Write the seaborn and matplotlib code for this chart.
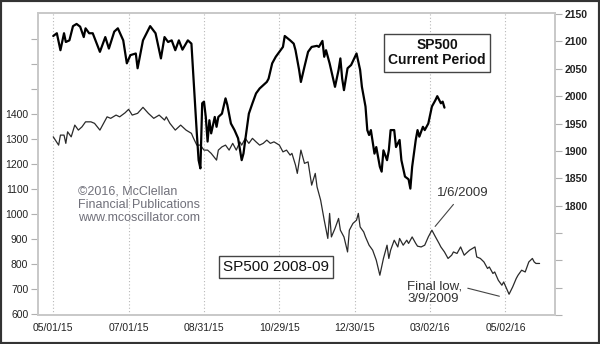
import matplotlib
matplotlib.use("Agg")
import matplotlib.pyplot as plt
from matplotlib.patches import Rectangle
import seaborn as sns
import pandas as pd

# ---- data (x = trading-day index from 05/01/15) ----
cur_idx = [0, 2, 4, 6, 7, 9, 11, 13, 15, 17, 18, 20, 22, 26, 29, 31, 34, 36, 39, 41,
           43, 46, 47, 50, 54, 57, 60, 62, 64, 66, 68, 70, 72, 75, 77, 78, 80, 81, 82, 83,
           84, 85, 86, 87, 88, 90, 91, 92, 94, 96, 97, 99, 101, 103, 105, 106, 107, 109, 111, 113,
           115, 117, 119, 120, 122, 124, 126, 128, 129, 132, 134, 135, 137, 138, 140, 142, 144, 147, 148, 150,
           151, 152, 154, 157, 159, 160, 161, 162, 164, 166, 169, 171, 172, 174, 175, 176, 177, 179, 180, 182,
           183, 184, 186, 187, 188, 190, 191, 193, 194, 196, 198, 199, 200, 202, 203, 204, 206, 207, 209, 211,
           213, 214, 216, 217, 218]
cur_val = [2110, 2115, 2084, 2115, 2099, 2102, 2128, 2132, 2127, 2108, 2124, 2115, 2115, 2081, 2108, 2087, 2118, 2124, 2102, 2060,
           2075, 2078, 2051, 2102, 2128, 2115, 2069, 2108, 2099, 2102, 2084, 2102, 2085, 2102, 2096, 2041, 1932, 1883, 1868, 1987,
           1990, 1962, 1917, 1956, 1932, 1962, 1944, 1962, 1968, 1996, 1984, 1950, 1938, 1923, 1883, 1895, 1920, 1968, 1987, 2005,
           2014, 2020, 2026, 2032, 2060, 2072, 2081, 2090, 2110, 2102, 2096, 2084, 2048, 2026, 2054, 2081, 2090, 2092, 2090, 2101,
           2072, 2084, 2060, 2017, 2048, 2069, 2032, 2011, 2051, 2057, 2078, 2048, 2017, 1981, 1938, 1929, 1938, 1895, 1907, 1871,
           1862, 1901, 1883, 1901, 1938, 1938, 1907, 1920, 1883, 1853, 1848, 1831, 1871, 1920, 1938, 1926, 1944, 1938, 1950, 1981,
           1993, 2000, 1987, 1990, 1979]

old_idx = [0, 3, 4, 6, 7, 8, 10, 12, 14, 16, 18, 21, 23, 26, 30, 32, 35, 37, 40, 42,
           44, 47, 50, 53, 56, 59, 62, 63, 65, 68, 71, 74, 77, 78, 80, 82, 84, 86, 88, 91,
           92, 94, 96, 98, 100, 102, 104, 105, 107, 109, 111, 113, 115, 117, 119, 121, 123, 126, 128, 130,
           132, 133, 135, 136, 137, 138, 140, 142, 144, 146, 147, 149, 151, 153, 154, 155, 157, 159, 160, 162,
           164, 165, 167, 169, 170, 171, 173, 174, 176, 178, 180, 182, 184, 186, 187, 188, 190, 192, 193, 195,
           197, 198, 200, 202, 203, 205, 207, 209, 211, 213, 215, 216, 218, 220, 222, 223, 225, 227, 229, 230,
           232, 235, 236, 238, 240, 242, 243, 245, 246, 248, 250, 251, 254, 256, 258, 259, 261, 263, 265, 267,
           268, 269, 271]
old_val = [1308, 1275, 1315, 1315, 1282, 1328, 1308, 1355, 1335, 1348, 1368, 1368, 1362, 1335, 1388, 1382, 1395, 1388, 1404, 1418,
           1395, 1402, 1426, 1402, 1382, 1395, 1375, 1388, 1362, 1335, 1355, 1335, 1322, 1305, 1275, 1275, 1255, 1255, 1242, 1215,
           1255, 1268, 1275, 1255, 1282, 1255, 1288, 1275, 1302, 1282, 1302, 1288, 1275, 1282, 1295, 1282, 1288, 1275, 1248, 1255,
           1235, 1242, 1195, 1162, 1208, 1255, 1202, 1208, 1115, 1162, 1108, 1055, 975, 902, 1002, 908, 942, 982, 935, 908,
           848, 935, 962, 975, 1002, 948, 928, 908, 875, 855, 815, 755, 822, 875, 822, 855, 895, 868, 902, 875,
           895, 882, 908, 882, 871, 868, 875, 908, 935, 908, 882, 868, 848, 822, 835, 848, 842, 868, 835, 842,
           855, 868, 828, 822, 808, 782, 788, 762, 768, 735, 715, 728, 679, 708, 742, 755, 775, 768, 808, 822,
           808, 802, 802]

x_tick_pos = [0, 42, 84, 126, 168, 210, 252]
x_tick_labels = ["05/01/15", "07/01/15", "08/31/15", "10/29/15", "12/30/15", "03/02/16", "05/02/16"]
left_ticks = [600, 700, 800, 900, 1000, 1100, 1200, 1300, 1400, 1500, 1600, 1700]
left_labels = ["600", "700", "800", "900", "1000", "1100", "1200", "1300", "1400", "", "", ""]
right_ticks = [1600, 1650, 1700, 1750, 1800, 1850, 1900, 1950, 2000, 2050, 2100, 2150]
right_labels = ["", "", "", "", "1800", "1850", "1900", "1950", "2000", "2050", "2100", "2150"]

jan6_idx, jan6_val = 211, 935
low_idx, low_val = 254, 679

cur_df = pd.DataFrame({"day": cur_idx, "value": cur_val})
old_df = pd.DataFrame({"day": old_idx, "value": old_val})

# ---- style ----
sns.set_style("white")
plt.rcParams["font.family"] = ["Liberation Sans", "DejaVu Sans"]

fig = plt.figure(figsize=(6.0, 3.44), dpi=100)
ax = fig.add_axes([38 / 600, 29 / 344, 517 / 600, 302 / 344])
ax2 = ax.twinx()

sns.lineplot(data=old_df, x="day", y="value", ax=ax, color="#2a2a2a", linewidth=0.9)
sns.lineplot(data=cur_df, x="day", y="value", ax=ax2, color="#000000", linewidth=1.6)

frame_c = "#c8c8c8"
for a in (ax, ax2):
    a.set_xlabel("")
    a.set_ylabel("")
    for s in a.spines.values():
        s.set_color(frame_c)
        s.set_linewidth(1.2)

ax.set_xlim(-8.5, 279.6)
ax.set_ylim(596, 1803)
ax2.set_ylim(1600, 2152)

ax.set_xticks(x_tick_pos)
ax.set_xticklabels(x_tick_labels)
ax.set_yticks(left_ticks)
ax.set_yticklabels(left_labels)
ax2.set_yticks(right_ticks)
ax2.set_yticklabels(right_labels, fontweight="bold")

ax.tick_params(axis="x", length=0, pad=6, labelsize=7.5, labelcolor="#222222")
ax.tick_params(axis="y", left=True, length=5, width=0.8, color="#b0b0b0", pad=2,
               labelsize=7.5, labelcolor="#222222")
ax2.tick_params(axis="y", right=True, length=5, width=0.8, color="#b0b0b0", pad=2,
                labelsize=7.5, labelcolor="#222222")

ax.xaxis.grid(True, linestyle=(0, (1, 2)), color="#b8b8b8", linewidth=0.8)
ax.yaxis.grid(False)
ax2.grid(False)

# ---- texts ----
ax2.text(213.9, 2079.6, "SP500\nCurrent Period", ha="center", va="center",
         fontsize=10, fontweight="bold", color="#111111", linespacing=1.15,
         bbox=dict(boxstyle="square,pad=0.3", facecolor="white", edgecolor="#444444", linewidth=1.0))

ax.text(124.0, 787, "SP500 2008-09", ha="center", va="center", fontsize=11, color="#111111",
        bbox=dict(boxstyle="square,pad=0.25", facecolor="white", edgecolor="#444444", linewidth=1.0))

ax.text(13.9, 1112, "\u00a92016, McClellan\nFinancial Publications\nwww.mcoscillator.com",
        ha="left", va="top", fontsize=9, color="#70707a", linespacing=1.1)

ax.text(213.7, 1071, "1/6/2009", ha="left", va="baseline", fontsize=9.5, color="#333333")
ax.annotate("", xy=(jan6_idx + 1.8, jan6_val + 15), xytext=(jan6_idx + 12, jan6_val + 103),
            arrowprops=dict(arrowstyle="-", color="#444444", lw=0.8, shrinkA=0, shrinkB=0))

ax.text(197.3, 733, "Final low,\n3/9/2009", ha="left", va="top", fontsize=9.5, color="#333333",
        linespacing=1.05)
ax.annotate("", xy=(low_idx - 5.4, low_val - 8), xytext=(low_idx - 23, low_val + 24),
            arrowprops=dict(arrowstyle="-", color="#444444", lw=0.8, shrinkA=0, shrinkB=0))

# outer border
fig.patches.append(Rectangle((0, 0), 1, 1, transform=fig.transFigure, fill=False,
                             edgecolor="#333333", linewidth=3, zorder=10))

fig.savefig("out.png", dpi=100)
